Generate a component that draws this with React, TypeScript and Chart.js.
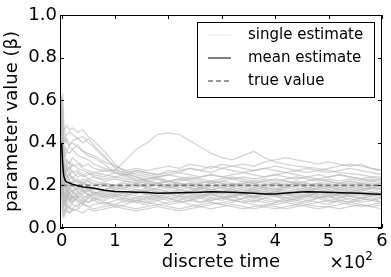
import React, { useEffect, useRef } from 'react';
import { Chart, registerables } from 'chart.js';

Chart.register(...registerables);

// discrete time steps at which the estimates were read
const timeSteps = [0, 2, 4, 7, 10, 15, 20, 30, 40, 50, 60, 80, 100, 120, 140, 160, 180, 200, 220, 240, 260, 280, 300, 320, 340, 360, 380, 400, 420, 440, 460, 480, 500, 520, 540, 560, 580, 600];

const single01 = [0.30, 0.12, 0.09, 0.08, 0.09, 0.10, 0.08, 0.09, 0.11, 0.10, 0.09, 0.10, 0.11, 0.10, 0.09, 0.10, 0.11, 0.10, 0.09, 0.10, 0.11, 0.12, 0.11, 0.10, 0.09, 0.10, 0.11, 0.10, 0.09, 0.10, 0.11, 0.10, 0.10, 0.11, 0.12, 0.11, 0.10, 0.11];
const single02 = [0.45, 0.20, 0.12, 0.10, 0.08, 0.07, 0.09, 0.11, 0.12, 0.10, 0.11, 0.12, 0.10, 0.11, 0.13, 0.12, 0.11, 0.12, 0.13, 0.11, 0.10, 0.11, 0.12, 0.13, 0.12, 0.11, 0.10, 0.12, 0.13, 0.12, 0.11, 0.12, 0.13, 0.12, 0.11, 0.10, 0.11, 0.12];
const single03 = [0.25, 0.10, 0.07, 0.09, 0.12, 0.14, 0.11, 0.10, 0.13, 0.12, 0.14, 0.12, 0.11, 0.13, 0.12, 0.14, 0.13, 0.11, 0.12, 0.13, 0.14, 0.12, 0.11, 0.12, 0.14, 0.13, 0.12, 0.11, 0.12, 0.14, 0.13, 0.12, 0.11, 0.13, 0.12, 0.13, 0.14, 0.12];
const single04 = [0.55, 0.30, 0.18, 0.12, 0.10, 0.12, 0.15, 0.13, 0.11, 0.14, 0.13, 0.11, 0.13, 0.14, 0.12, 0.11, 0.13, 0.14, 0.12, 0.13, 0.12, 0.14, 0.15, 0.13, 0.12, 0.13, 0.14, 0.13, 0.12, 0.11, 0.13, 0.14, 0.12, 0.13, 0.14, 0.12, 0.13, 0.12];
const single05 = [0.35, 0.15, 0.11, 0.13, 0.16, 0.13, 0.12, 0.15, 0.14, 0.12, 0.13, 0.15, 0.14, 0.12, 0.13, 0.15, 0.14, 0.13, 0.15, 0.14, 0.12, 0.13, 0.14, 0.15, 0.13, 0.12, 0.14, 0.15, 0.14, 0.13, 0.12, 0.14, 0.15, 0.13, 0.12, 0.14, 0.13, 0.14];
const single06 = [0.40, 0.22, 0.14, 0.11, 0.13, 0.17, 0.15, 0.12, 0.14, 0.16, 0.14, 0.13, 0.15, 0.14, 0.13, 0.12, 0.14, 0.15, 0.14, 0.13, 0.15, 0.16, 0.14, 0.13, 0.14, 0.15, 0.13, 0.12, 0.14, 0.15, 0.14, 0.15, 0.13, 0.14, 0.15, 0.14, 0.13, 0.15];
const single07 = [0.50, 0.28, 0.16, 0.14, 0.18, 0.15, 0.13, 0.16, 0.18, 0.15, 0.14, 0.16, 0.15, 0.13, 0.14, 0.16, 0.15, 0.14, 0.13, 0.15, 0.16, 0.14, 0.13, 0.15, 0.16, 0.14, 0.15, 0.16, 0.14, 0.13, 0.15, 0.14, 0.16, 0.15, 0.13, 0.14, 0.15, 0.14];
const single08 = [0.20, 0.08, 0.06, 0.08, 0.11, 0.09, 0.12, 0.14, 0.12, 0.15, 0.17, 0.14, 0.16, 0.15, 0.14, 0.13, 0.15, 0.16, 0.15, 0.14, 0.15, 0.13, 0.14, 0.16, 0.15, 0.14, 0.16, 0.15, 0.13, 0.14, 0.16, 0.15, 0.14, 0.16, 0.15, 0.14, 0.15, 0.16];
const single09 = [0.38, 0.18, 0.13, 0.16, 0.14, 0.18, 0.20, 0.17, 0.15, 0.14, 0.16, 0.15, 0.17, 0.16, 0.15, 0.14, 0.16, 0.17, 0.16, 0.15, 0.14, 0.16, 0.15, 0.14, 0.16, 0.17, 0.16, 0.15, 0.16, 0.14, 0.15, 0.16, 0.15, 0.14, 0.16, 0.15, 0.16, 0.15];
const single10 = [0.60, 0.40, 0.24, 0.18, 0.15, 0.13, 0.16, 0.19, 0.17, 0.16, 0.15, 0.17, 0.16, 0.15, 0.17, 0.16, 0.15, 0.16, 0.17, 0.16, 0.15, 0.17, 0.16, 0.15, 0.16, 0.15, 0.17, 0.16, 0.15, 0.16, 0.17, 0.16, 0.15, 0.16, 0.17, 0.16, 0.15, 0.16];
const single11 = [0.42, 0.25, 0.15, 0.12, 0.14, 0.16, 0.18, 0.15, 0.17, 0.19, 0.17, 0.16, 0.15, 0.17, 0.16, 0.18, 0.17, 0.16, 0.15, 0.17, 0.16, 0.15, 0.17, 0.18, 0.16, 0.15, 0.16, 0.17, 0.18, 0.16, 0.15, 0.17, 0.16, 0.17, 0.15, 0.16, 0.17, 0.16];
const single12 = [0.32, 0.14, 0.10, 0.12, 0.15, 0.19, 0.17, 0.14, 0.16, 0.18, 0.16, 0.18, 0.17, 0.16, 0.18, 0.17, 0.16, 0.18, 0.17, 0.16, 0.17, 0.18, 0.17, 0.16, 0.17, 0.18, 0.16, 0.17, 0.16, 0.17, 0.18, 0.17, 0.16, 0.18, 0.17, 0.16, 0.17, 0.16];
const single13 = [0.48, 0.35, 0.22, 0.20, 0.17, 0.20, 0.22, 0.19, 0.18, 0.17, 0.19, 0.17, 0.18, 0.17, 0.16, 0.18, 0.17, 0.16, 0.18, 0.19, 0.17, 0.16, 0.18, 0.17, 0.16, 0.18, 0.17, 0.18, 0.16, 0.17, 0.18, 0.17, 0.18, 0.16, 0.17, 0.18, 0.17, 0.16];
const single14 = [0.28, 0.12, 0.15, 0.17, 0.20, 0.16, 0.14, 0.17, 0.19, 0.18, 0.16, 0.18, 0.19, 0.18, 0.17, 0.19, 0.18, 0.17, 0.16, 0.18, 0.19, 0.18, 0.17, 0.19, 0.18, 0.17, 0.18, 0.19, 0.17, 0.18, 0.17, 0.19, 0.18, 0.17, 0.18, 0.19, 0.18, 0.17];
const single15 = [0.52, 0.45, 0.30, 0.24, 0.21, 0.19, 0.17, 0.20, 0.22, 0.19, 0.18, 0.20, 0.18, 0.19, 0.18, 0.17, 0.19, 0.20, 0.18, 0.17, 0.19, 0.18, 0.19, 0.18, 0.17, 0.19, 0.18, 0.17, 0.19, 0.18, 0.19, 0.18, 0.17, 0.19, 0.18, 0.17, 0.19, 0.18];
const single16 = [0.36, 0.20, 0.17, 0.21, 0.19, 0.22, 0.20, 0.18, 0.21, 0.20, 0.19, 0.18, 0.20, 0.19, 0.21, 0.19, 0.18, 0.19, 0.20, 0.19, 0.18, 0.20, 0.19, 0.18, 0.19, 0.20, 0.19, 0.18, 0.20, 0.19, 0.18, 0.19, 0.20, 0.18, 0.19, 0.18, 0.19, 0.18];
const single17 = [0.44, 0.30, 0.26, 0.23, 0.25, 0.22, 0.21, 0.23, 0.20, 0.22, 0.21, 0.20, 0.19, 0.20, 0.19, 0.21, 0.20, 0.19, 0.20, 0.21, 0.20, 0.19, 0.20, 0.19, 0.21, 0.20, 0.19, 0.20, 0.19, 0.20, 0.21, 0.19, 0.20, 0.19, 0.20, 0.19, 0.20, 0.19];
const single18 = [0.58, 0.50, 0.35, 0.28, 0.24, 0.26, 0.23, 0.21, 0.23, 0.22, 0.20, 0.21, 0.20, 0.21, 0.20, 0.19, 0.21, 0.20, 0.21, 0.20, 0.19, 0.21, 0.20, 0.21, 0.20, 0.19, 0.20, 0.21, 0.20, 0.21, 0.19, 0.20, 0.21, 0.20, 0.19, 0.20, 0.21, 0.20];
const single19 = [0.30, 0.16, 0.20, 0.22, 0.19, 0.23, 0.24, 0.22, 0.21, 0.23, 0.22, 0.21, 0.20, 0.22, 0.21, 0.20, 0.21, 0.22, 0.21, 0.20, 0.21, 0.22, 0.21, 0.20, 0.22, 0.21, 0.20, 0.21, 0.22, 0.21, 0.20, 0.21, 0.22, 0.21, 0.20, 0.21, 0.20, 0.21];
const single20 = [0.46, 0.38, 0.28, 0.26, 0.28, 0.25, 0.27, 0.24, 0.25, 0.23, 0.24, 0.22, 0.23, 0.22, 0.21, 0.22, 0.23, 0.21, 0.22, 0.23, 0.22, 0.21, 0.22, 0.23, 0.22, 0.21, 0.22, 0.23, 0.22, 0.21, 0.22, 0.23, 0.22, 0.21, 0.22, 0.21, 0.22, 0.21];
const single21 = [0.40, 0.27, 0.22, 0.25, 0.27, 0.29, 0.26, 0.27, 0.25, 0.26, 0.24, 0.23, 0.24, 0.23, 0.22, 0.23, 0.24, 0.22, 0.23, 0.24, 0.23, 0.22, 0.23, 0.24, 0.23, 0.22, 0.23, 0.22, 0.23, 0.24, 0.23, 0.22, 0.23, 0.22, 0.23, 0.22, 0.23, 0.22];
const single22 = [0.62, 0.55, 0.40, 0.33, 0.30, 0.31, 0.29, 0.30, 0.28, 0.27, 0.26, 0.25, 0.24, 0.25, 0.24, 0.23, 0.24, 0.25, 0.24, 0.23, 0.24, 0.25, 0.24, 0.23, 0.24, 0.23, 0.24, 0.25, 0.24, 0.23, 0.24, 0.23, 0.24, 0.25, 0.24, 0.23, 0.22, 0.23];
const single23 = [0.34, 0.24, 0.30, 0.28, 0.32, 0.30, 0.33, 0.31, 0.29, 0.30, 0.28, 0.27, 0.26, 0.25, 0.26, 0.25, 0.24, 0.25, 0.26, 0.25, 0.24, 0.25, 0.24, 0.25, 0.26, 0.25, 0.24, 0.25, 0.26, 0.25, 0.24, 0.25, 0.24, 0.25, 0.24, 0.23, 0.24, 0.23];
const single24 = [0.50, 0.42, 0.36, 0.34, 0.36, 0.35, 0.37, 0.34, 0.33, 0.32, 0.30, 0.28, 0.27, 0.26, 0.27, 0.26, 0.25, 0.26, 0.27, 0.28, 0.27, 0.29, 0.28, 0.27, 0.26, 0.27, 0.28, 0.27, 0.26, 0.27, 0.28, 0.27, 0.26, 0.27, 0.28, 0.27, 0.26, 0.25];
const single25 = [0.44, 0.47, 0.42, 0.40, 0.42, 0.39, 0.40, 0.38, 0.36, 0.35, 0.34, 0.31, 0.29, 0.27, 0.28, 0.27, 0.28, 0.29, 0.28, 0.30, 0.29, 0.28, 0.30, 0.29, 0.28, 0.27, 0.28, 0.29, 0.28, 0.27, 0.26, 0.27, 0.28, 0.29, 0.30, 0.29, 0.28, 0.27];
const single26 = [0.38, 0.26, 0.21, 0.24, 0.22, 0.25, 0.23, 0.26, 0.24, 0.25, 0.26, 0.27, 0.27, 0.32, 0.37, 0.40, 0.44, 0.445, 0.44, 0.41, 0.38, 0.35, 0.33, 0.32, 0.34, 0.36, 0.33, 0.31, 0.30, 0.29, 0.285, 0.28, 0.27, 0.26, 0.255, 0.25, 0.24, 0.24];
const single27 = [0.52, 0.36, 0.28, 0.26, 0.29, 0.27, 0.30, 0.28, 0.27, 0.26, 0.25, 0.24, 0.26, 0.25, 0.27, 0.26, 0.25, 0.27, 0.26, 0.28, 0.27, 0.26, 0.28, 0.29, 0.30, 0.29, 0.31, 0.32, 0.33, 0.32, 0.31, 0.30, 0.31, 0.30, 0.29, 0.30, 0.28, 0.27];
const single28 = [0.56, 0.44, 0.46, 0.47, 0.48, 0.46, 0.47, 0.45, 0.46, 0.43, 0.41, 0.36, 0.30, 0.26, 0.24, 0.22, 0.21, 0.22, 0.20, 0.21, 0.20, 0.21, 0.22, 0.21, 0.20, 0.21, 0.22, 0.21, 0.20, 0.21, 0.20, 0.21, 0.20, 0.21, 0.22, 0.21, 0.20, 0.21];
const single29 = [0.48, 0.40, 0.41, 0.43, 0.44, 0.45, 0.44, 0.42, 0.43, 0.40, 0.38, 0.33, 0.29, 0.27, 0.25, 0.24, 0.23, 0.22, 0.23, 0.22, 0.21, 0.22, 0.21, 0.20, 0.21, 0.22, 0.21, 0.20, 0.21, 0.22, 0.21, 0.20, 0.19, 0.20, 0.21, 0.20, 0.19, 0.20];
const single30 = [0.45, 0.63, 0.50, 0.42, 0.40, 0.38, 0.37, 0.39, 0.36, 0.34, 0.33, 0.30, 0.26, 0.24, 0.23, 0.22, 0.21, 0.20, 0.19, 0.20, 0.19, 0.18, 0.19, 0.20, 0.19, 0.18, 0.19, 0.18, 0.19, 0.20, 0.19, 0.18, 0.19, 0.18, 0.17, 0.18, 0.19, 0.18];
const single31 = [0.42, 0.33, 0.35, 0.38, 0.36, 0.39, 0.41, 0.42, 0.40, 0.42, 0.39, 0.34, 0.28, 0.25, 0.22, 0.21, 0.20, 0.19, 0.18, 0.17, 0.18, 0.17, 0.16, 0.17, 0.18, 0.17, 0.16, 0.17, 0.16, 0.15, 0.16, 0.17, 0.16, 0.15, 0.16, 0.17, 0.16, 0.15];
const single32 = [0.22, 0.06, 0.05, 0.07, 0.08, 0.07, 0.09, 0.08, 0.07, 0.09, 0.08, 0.09, 0.10, 0.09, 0.08, 0.09, 0.10, 0.09, 0.08, 0.09, 0.10, 0.09, 0.10, 0.11, 0.10, 0.09, 0.10, 0.09, 0.10, 0.11, 0.10, 0.09, 0.10, 0.09, 0.10, 0.11, 0.10, 0.09];

const singleEstimates = [
  single01, single02, single03, single04, single05, single06, single07, single08,
  single09, single10, single11, single12, single13, single14, single15, single16,
  single17, single18, single19, single20, single21, single22, single23, single24,
  single25, single26, single27, single28, single29, single30, single31, single32,
];

const meanEstimate = [0.40, 0.30, 0.245, 0.222, 0.215, 0.211, 0.206, 0.198, 0.193, 0.190, 0.187, 0.177, 0.171, 0.170, 0.168, 0.167, 0.163, 0.164, 0.166, 0.167, 0.168, 0.170, 0.169, 0.168, 0.165, 0.163, 0.160, 0.160, 0.164, 0.168, 0.170, 0.169, 0.168, 0.166, 0.164, 0.163, 0.160, 0.158];

const trueValue = 0.2;
const trueSpan = [0, 600];

const xTickValues = [0, 100, 200, 300, 400, 500, 600];
const xTickLabels = ['0', '1', '2', '3', '4', '5', '6'];
const yTickValues = [0, 0.2, 0.4, 0.6, 0.8, 1.0];
const yTickLabels = ['0.0', '0.2', '0.4', '0.6', '0.8', '1.0'];

const legendLabels = ['single estimate', 'mean estimate', 'true value'];

const FONT = "'DejaVu Sans', 'Bitstream Vera Sans', sans-serif";

const decorPlugin = {
  id: 'mplDecor',
  afterDatasetsDraw(chart: any) {
    const { ctx, chartArea: a, scales } = chart;
    const xs = scales.x;
    const ys = scales.y;
    ctx.save();
    ctx.strokeStyle = '#000';
    ctx.lineWidth = 1;
    const tl = 4;
    ctx.beginPath();
    xTickValues.forEach((v) => {
      const px = Math.round(xs.getPixelForValue(v)) + 0.5;
      ctx.moveTo(px, a.bottom);
      ctx.lineTo(px, a.bottom - tl);
      ctx.moveTo(px, a.top);
      ctx.lineTo(px, a.top + tl);
    });
    yTickValues.forEach((v) => {
      const py = Math.round(ys.getPixelForValue(v)) + 0.5;
      ctx.moveTo(a.left, py);
      ctx.lineTo(a.left + tl, py);
      ctx.moveTo(a.right, py);
      ctx.lineTo(a.right - tl, py);
    });
    ctx.stroke();
    ctx.strokeRect(a.left + 0.5, a.top + 0.5, a.right - a.left - 1, a.bottom - a.top - 1);
    ctx.restore();
  },
  afterDraw(chart: any) {
    const { ctx, chartArea: a } = chart;
    ctx.save();
    // legend
    const bw = 177, bh = 75;
    const bx = a.right - 8 - bw;
    const by = a.top + 7;
    ctx.fillStyle = '#fff';
    ctx.fillRect(bx, by, bw, bh);
    ctx.strokeStyle = '#000';
    ctx.lineWidth = 1;
    ctx.strokeRect(bx + 0.5, by + 0.5, bw, bh);
    const datasets = chart.data.datasets;
    ctx.font = `15px ${FONT}`;
    ctx.textBaseline = 'middle';
    ctx.textAlign = 'left';
    legendLabels.forEach((lab, i) => {
      const ds = datasets.find((d: any) => d.label === lab);
      if (!ds) return;
      const cy = by + 13 + i * 23;
      ctx.save();
      ctx.beginPath();
      ctx.strokeStyle = ds.legendColor || ds.borderColor;
      ctx.lineWidth = ds.borderWidth;
      ctx.setLineDash(ds.borderDash || []);
      ctx.moveTo(bx + 11, cy);
      ctx.lineTo(bx + 34, cy);
      ctx.stroke();
      ctx.restore();
      ctx.fillStyle = '#000';
      ctx.fillText(lab, bx + 51, cy);
    });
    // axis titles
    ctx.fillStyle = '#000';
    ctx.font = `18px ${FONT}`;
    ctx.textAlign = 'center';
    ctx.textBaseline = 'alphabetic';
    ctx.fillText('discrete time', (a.left + a.right) / 2, 267);
    ctx.save();
    ctx.translate(17, (a.top + a.bottom) / 2);
    ctx.rotate(-Math.PI / 2);
    ctx.fillText('parameter value (β)', 0, 0);
    ctx.restore();
    // offset text
    ctx.textAlign = 'right';
    ctx.font = `12px ${FONT}`;
    ctx.fillText('2', a.right - 9, 260);
    const w2 = ctx.measureText('2').width;
    ctx.font = `17px ${FONT}`;
    ctx.fillText('×10', a.right - 9 - w2, 268);
    ctx.restore();
  },
};

export default function App() {
  const ref = useRef<HTMLCanvasElement | null>(null);
  useEffect(() => {
    document.body.style.margin = '0';
    const canvas = ref.current;
    if (!canvas) return;
    const singles = singleEstimates.map((arr, k) => ({
      label: k === 0 ? 'single estimate' : 'single estimate ' + (k + 1),
      data: timeSteps.map((t, i) => ({ x: t, y: arr[i] })),
      borderColor: 'rgba(185,185,185,0.6)',
      legendColor: 'rgba(185,185,185,0.25)',
      borderWidth: 1.3,
      pointRadius: 0,
      tension: 0,
      order: 3,
    }));
    const chart = new Chart(canvas, {
      type: 'line',
      data: {
        datasets: [
          {
            label: 'mean estimate',
            data: timeSteps.map((t, i) => ({ x: t, y: meanEstimate[i] })),
            borderColor: '#000',
            legendColor: '#555',
            borderWidth: 1.5,
            pointRadius: 0,
            tension: 0,
            order: 1,
          } as any,
          {
            label: 'true value',
            data: trueSpan.map((t) => ({ x: t, y: trueValue })),
            borderColor: '#787878',
            borderWidth: 1.6,
            borderDash: [5, 3],
            pointRadius: 0,
            order: 2,
          } as any,
          ...singles,
        ],
      },
      options: {
        responsive: false,
        animation: false,
        devicePixelRatio: 1,
        layout: { padding: { top: 15, right: 9, left: 0, bottom: 0 } },
        plugins: { legend: { display: false }, tooltip: { enabled: false } },
        scales: {
          x: {
            type: 'linear',
            min: -3,
            max: 600,
            afterBuildTicks: (s: any) => {
              s.ticks = xTickValues.map((v) => ({ value: v }));
            },
            afterFit: (s: any) => {
              s.height = 49;
            },
            ticks: {
              callback: (_v: any, i: number) => xTickLabels[i],
              font: { family: FONT, size: 18 },
              color: '#000',
              padding: 3,
              maxRotation: 0,
              autoSkip: false,
            },
            grid: { display: false, drawTicks: false },
            border: { display: false },
          },
          y: {
            type: 'linear',
            min: 0,
            max: 1,
            afterBuildTicks: (s: any) => {
              s.ticks = yTickValues.map((v) => ({ value: v }));
            },
            afterFit: (s: any) => {
              s.width = 60;
            },
            ticks: {
              callback: (_v: any, i: number) => yTickLabels[i],
              font: { family: FONT, size: 18 },
              color: '#000',
              padding: 3,
              autoSkip: false,
            },
            grid: { display: false, drawTicks: false },
            border: { display: false },
          },
        },
      } as any,
      plugins: [decorPlugin],
    });
    return () => chart.destroy();
  }, []);
  return (
    <div style={{ width: 391, height: 277 }}>
      <canvas ref={ref} width={391} height={277} style={{ display: 'block' }} />
    </div>
  );
}
